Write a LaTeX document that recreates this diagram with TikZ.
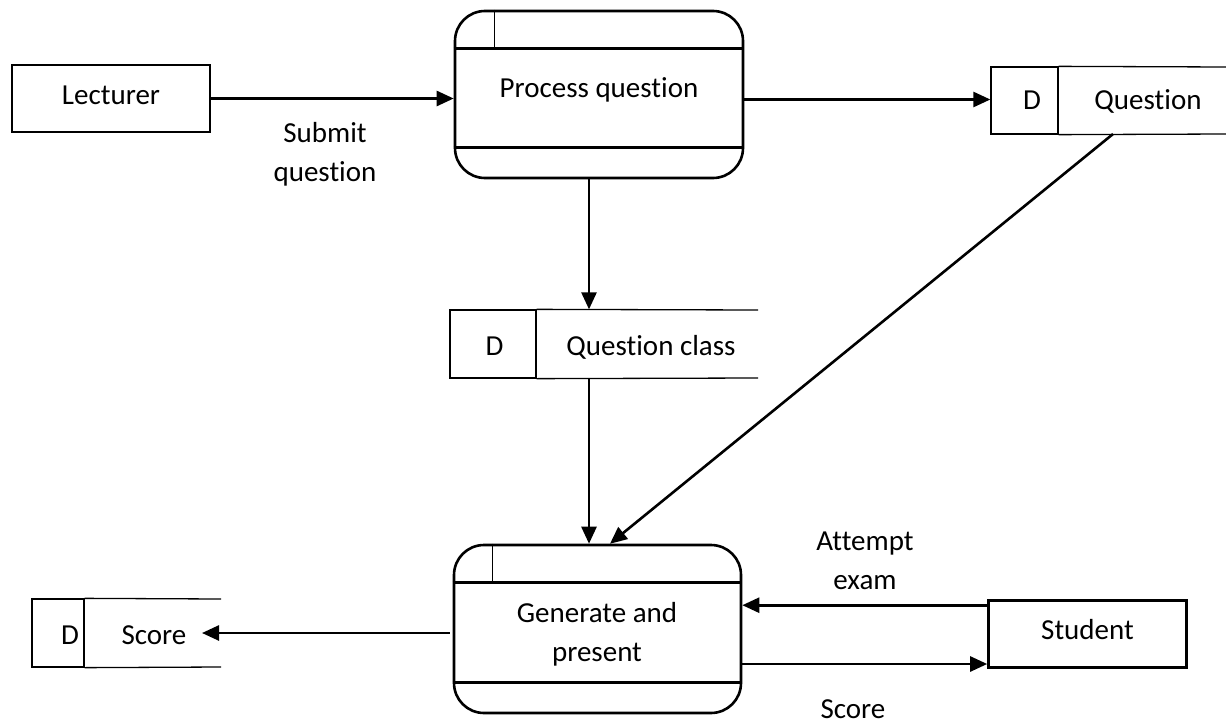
\documentclass[tikz,border=0pt]{standalone}
\usepackage{fontspec}
\setmainfont{Carlito}[Ligatures={NoCommon}]
\usetikzlibrary{arrows.meta,calc}
\begin{document}
\begin{tikzpicture}[x=1pt,y=-1pt,
  thickline/.style={line width=2.6pt},
  thinline/.style={line width=1.3pt},
  flow/.style={thickline,-{Triangle[length=17pt,width=15pt]}},
  txt/.style={font=\fontsize{29}{39}\selectfont,inner sep=0pt},
  lbl/.style={txt,anchor=base},
  entity/.style={draw,thickline,txt,minimum width=198pt,minimum height=67pt,
    text height=18pt,text depth=7pt},
  proc/.style={draw,thickline,rounded corners=30pt,inner sep=0pt},
  dbox/.style={draw,thinline,inner sep=0pt}
]
\useasboundingbox (0,0) rectangle (1226,725);

% external entities
\node[entity] (lect) at (111,98.5) {Lecturer};
\node[entity] (stu) at (1087.5,634) {Student};

% process: Process question
\node[proc,minimum width=288pt,minimum height=167pt] (pq) at (599,94.5) {};
\draw[thickline] ($(pq.north west)+(0,39)$) -- ($(pq.north east)+(0,39)$);
\draw[thickline] ($(pq.south west)+(0,-32)$) -- ($(pq.south east)+(0,-32)$);
\draw[thinline] ($(pq.north west)+(41,0)$) -- ($(pq.north west)+(41,39)$);
\node[lbl] (pqt) at (599,97) {Process question};

% process: Generate and present
\node[proc,minimum width=287pt,minimum height=168pt] (gp) at (597.5,629) {};
\draw[thickline] ($(gp.north west)+(0,39)$) -- ($(gp.north east)+(0,39)$);
\draw[thickline] ($(gp.south west)+(0,-32)$) -- ($(gp.south east)+(0,-32)$);
\draw[thinline] ($(gp.north west)+(40,0)$) -- ($(gp.north west)+(40,39)$);
\node[txt,align=center] (gpt) at (597,634.5) {Generate and\\present};

% data store: Question
\node[dbox,minimum width=67pt,minimum height=67pt] (qsd) at (1024.5,100.5) {};
\coordinate (qsne) at (1226,67);
\coordinate (qsse) at (1226,134);
\draw[thinline] (qsd.north east) -- (qsne);
\draw[thinline] (qsd.south east) -- (qsse);
\node[lbl] (qsdl) at (1032,110) {D};
\node[lbl] (qsl) at (1148,110) {Question};

% data store: Question class
\node[dbox,minimum width=86pt,minimum height=68pt] (qcd) at (493,344) {};
\coordinate (qcne) at (758,310);
\coordinate (qcse) at (758,378);
\draw[thinline] (qcd.north east) -- (qcne);
\draw[thinline] (qcd.south east) -- (qcse);
\node[lbl] (qcdl) at (494.5,355) {D};
\node[lbl] (qcl) at (651,355) {Question class};

% data store: Score
\node[dbox,minimum width=52pt,minimum height=68pt] (scd) at (58,633) {};
\coordinate (scne) at (221,599);
\coordinate (scse) at (221,667);
\draw[thinline] (scd.north east) -- (scne);
\draw[thinline] (scd.south east) -- (scse);
\node[lbl] (scdl) at (70,644) {D};
\node[lbl] (scl) at (154,644) {Score};

% data flows
\draw[flow] (lect.east) -- (lect.east -| pq.west);
\node[txt,align=center] (f1) at (325,154.5) {Submit\\question};

\coordinate (a1) at ($(pq.east)+(0,5)$);
\draw[flow] (a1) -- (a1 -| qsd.west);

\coordinate (a2) at ($(pq.south)+(-10,0)$);
\draw[flow] (a2) -- (a2 |- qcd.north);

\coordinate (a3) at (a2 |- qcd.south);
\draw[flow] (a3) -- (a3 |- gp.north);

\coordinate (a4) at (1113,134);
\coordinate (a5) at ($(gp.north)+(12.5,0)$);
\draw[flow] (a4) -- (a5);

\coordinate (a6) at ($(gp.west)+(-3,4)$);
\coordinate (sce) at (202,633);
\draw[flow] (a6) -- (sce);

\coordinate (a7) at ($(stu.north west)+(0,6)$);
\draw[flow] (a7) -- (a7 -| gp.east);
\node[txt,align=center] (f2) at (865,560.5) {Attempt\\exam};

\coordinate (a8) at ($(gp.east)+(0,35)$);
\draw[flow] (a8) -- (a8 -| stu.west);
\node[lbl] (f3) at (853,718) {Score};
\end{tikzpicture}
\end{document}
